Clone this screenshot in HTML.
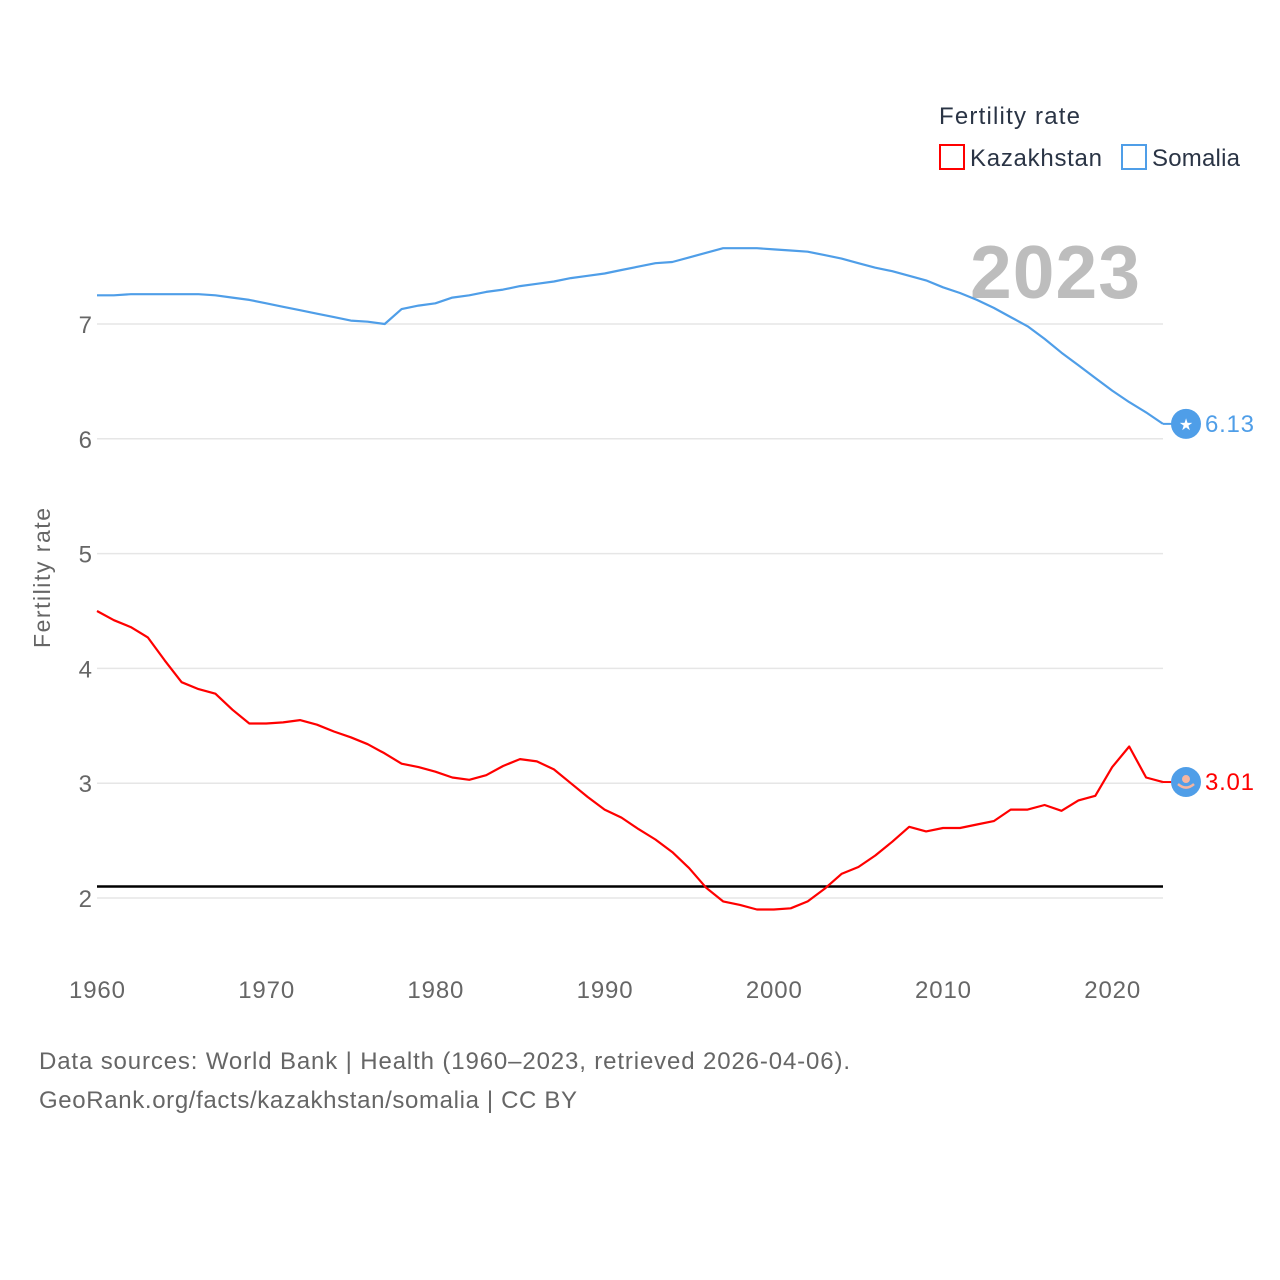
<!DOCTYPE html>
<html><head><meta charset="utf-8"><style>
html,body{margin:0;padding:0;background:#fff;}
svg{display:block;font-family:"Liberation Sans",sans-serif;}
</style></head><body>
<svg id="chart" width="1280" height="1280" viewBox="0 0 1280 1280">
<g id="grid"></g>
<g id="yticks"></g>
<g id="xticks"></g>
<text x="1140" y="298" text-anchor="end" font-size="75" font-weight="bold" fill="#bdbdbd" textLength="170">2023</text>
<line id="repl" stroke="#000" stroke-width="2.5"/>
<g id="series"></g>
<text transform="translate(50,578) rotate(-90)" text-anchor="middle" font-size="23" fill="#666" textLength="140">Fertility rate</text>
<g>
<text x="939" y="124" font-size="24" fill="#2a3445" textLength="141">Fertility rate</text>
<g><rect x="940" y="145" width="24" height="24" fill="none" stroke="#ff0000" stroke-width="2"/><text x="970" y="166" font-size="24" fill="#2a3445" textLength="132">Kazakhstan</text></g>
<g><rect x="1122" y="145" width="24" height="24" fill="none" stroke="#4f9ee8" stroke-width="2"/><text x="1152" y="166" font-size="24" fill="#2a3445" textLength="88">Somalia</text></g>
</g>
<text x="39" y="1069" font-size="24" fill="#666" textLength="811">Data sources: World Bank | Health (1960–2023, retrieved 2026-04-06).</text>
<text x="39" y="1108" font-size="24" fill="#666" textLength="538">GeoRank.org/facts/kazakhstan/somalia | CC BY</text>
</svg>
<script>
const years = [];
for (let y = 1960; y <= 2023; y++) years.push(y);
const kazakhstan = [4.50,4.42,4.36,4.27,4.07,3.88,3.82,3.78,3.64,3.52,3.52,3.53,3.55,3.51,3.45,3.40,3.34,3.26,3.17,3.14,3.10,3.05,3.03,3.07,3.15,3.21,3.19,3.12,3.00,2.88,2.77,2.70,2.60,2.51,2.40,2.26,2.09,1.97,1.94,1.90,1.90,1.91,1.97,2.08,2.21,2.27,2.37,2.49,2.62,2.58,2.61,2.61,2.64,2.67,2.77,2.77,2.81,2.76,2.85,2.89,3.14,3.32,3.05,3.01];
const somalia = [7.25,7.25,7.26,7.26,7.26,7.26,7.26,7.25,7.23,7.21,7.18,7.15,7.12,7.09,7.06,7.03,7.02,7.00,7.13,7.16,7.18,7.23,7.25,7.28,7.30,7.33,7.35,7.37,7.40,7.42,7.44,7.47,7.50,7.53,7.54,7.58,7.62,7.66,7.66,7.66,7.65,7.64,7.63,7.60,7.57,7.53,7.49,7.46,7.42,7.38,7.32,7.27,7.21,7.14,7.06,6.98,6.87,6.75,6.64,6.53,6.42,6.32,6.23,6.13];
const yTicks = [2,3,4,5,6,7];
const xTicks = [1960,1970,1980,1990,2000,2010,2020];
const replacementRate = 2.1;

const NS = "http://www.w3.org/2000/svg";
const x = v => 97 + (v - 1960) * (1163 - 97) / 63;
const y = v => 898 - (v - 2) * 114.8;
function mk(tag, attrs, parent, txt) {
  const e = document.createElementNS(NS, tag);
  for (const k in attrs) e.setAttribute(k, attrs[k]);
  if (txt !== undefined) e.textContent = txt;
  parent.appendChild(e);
  return e;
}
const grid = document.getElementById('grid'), yt = document.getElementById('yticks'), xt = document.getElementById('xticks');
yTicks.forEach(t => {
  const l = mk('line', {x1: 97, x2: 1163, y1: y(t), y2: y(t), stroke: '#e6e6e6', 'stroke-width': 1.5}, grid);
  
  
  const tx = mk('text', {x: 92, y: y(t) + 9, 'text-anchor': 'end', 'font-size': 24, fill: '#666'}, yt, String(t));
  
  
});
xTicks.forEach(t => {
  const tx = mk('text', {x: x(t), y: 998, 'text-anchor': 'middle', 'font-size': 24, fill: '#666', textLength: 56}, xt, String(t));
  
  
});
const r = document.getElementById('repl');
r.setAttribute('x1', 97); r.setAttribute('x2', 1163);
r.setAttribute('y1', y(replacementRate)); r.setAttribute('y2', y(replacementRate));

const S = document.getElementById('series');
function series(vals, color, name) {
  const pts = vals.map((v, i) => x(years[i]).toFixed(1) + ',' + y(v).toFixed(1)).join(' ');
  const p = mk('polyline', {points: pts, fill: 'none', stroke: color, 'stroke-width': 2.2, 'stroke-linejoin': 'round'}, S);
  
  
  const last = vals[vals.length - 1], ly = y(last);
  mk('line', {x1: x(2023), x2: 1172, y1: ly, y2: ly, stroke: color, 'stroke-width': 2}, S);
  const c = mk('circle', {cx: 1186, cy: ly, r: 15, fill: '#4f9ee8'}, S);
  
  
  const t = mk('text', {x: 1205, y: ly + 8, 'font-size': 24, fill: color, textLength: 49}, S, last.toFixed(2));
  
  
  return ly;
}
const ky = series(kazakhstan, '#ff0000', 'kazakhstan');
const sy = series(somalia, '#4f9ee8', 'somalia');
mk('text', {x: 1186, y: sy + 6, 'text-anchor': 'middle', 'font-size': 16, fill: '#fff'}, S, '★');
mk('circle', {cx: 1186, cy: ky - 3, r: 4, fill: '#f5b5a0'}, S);
mk('path', {d: `M1178 ${ky+2} Q1186 ${ky+9} 1194 ${ky+2}`, fill: 'none', stroke: '#f5b5a0', 'stroke-width': 2.5}, S);
</script>
</body></html>
